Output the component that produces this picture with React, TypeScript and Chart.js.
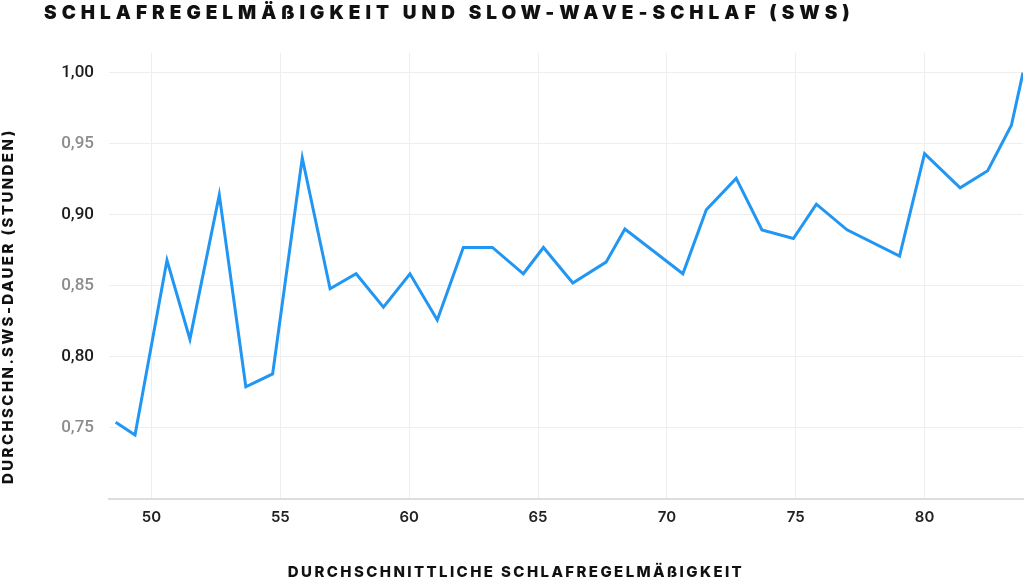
import { useEffect, useRef } from 'react';
import { Chart, registerables } from 'chart.js';

Chart.register(...registerables);

const titleText = 'SCHLAFREGELMÄßIGKEIT UND SLOW-WAVE-SCHLAF (SWS)';
const xAxisTitle = 'DURCHSCHNITTLICHE SCHLAFREGELMÄßIGKEIT';
const yAxisTitle = 'DURCHSCHN.SWS-DAUER (STUNDEN)';

const regularity = [
  48.61, 49.36, 50.6, 51.49, 52.63, 53.66, 54.7, 55.85, 56.93, 57.94, 59.0,
  60.03, 61.09, 62.1, 63.23, 64.43, 65.21, 66.35, 67.64, 68.37, 70.62, 71.53,
  72.69, 73.69, 74.91, 75.8, 76.99, 79.03, 80.0, 81.38, 82.45, 83.37, 83.82,
];
const swsHours = [
  0.754, 0.745, 0.868, 0.8125, 0.914, 0.779, 0.788, 0.94, 0.848, 0.8585, 0.835,
  0.8585, 0.826, 0.877, 0.877, 0.8585, 0.877, 0.852, 0.8667, 0.89, 0.8585,
  0.9035, 0.9256, 0.8894, 0.8833, 0.9075, 0.8894, 0.871, 0.943, 0.919, 0.931,
  0.963, 1.0,
];
const xTicks = [50, 55, 60, 65, 70, 75, 80];
const yTicks = [0.75, 0.8, 0.85, 0.9, 0.95, 1.0];

const TITLE_FONT = 'Inter';
const TITLE_SPACING = '5px';
const AXIS_TITLE_SPACING = '2.4px';

const spacingPlugin = {
  id: 'spacingPlugin',
  afterLayout(chart: any) {
    const tb = chart.titleBlock;
    if (tb && !tb.__wrapped) {
      const orig = tb.draw.bind(tb);
      tb.draw = (area: any) => {
        const ctx = chart.ctx;
        ctx.save();
        ctx.letterSpacing = TITLE_SPACING;
        ctx.translate(44, 0);
        orig(area);
        ctx.restore();
      };
      tb.__wrapped = true;
    }
    ['x', 'y'].forEach((id) => {
      const s = chart.scales[id];
      if (s && !s.__wrapped) {
        const o = s.drawTitle.bind(s);
        s.drawTitle = () => {
          const ctx = chart.ctx;
          ctx.save();
          ctx.letterSpacing = AXIS_TITLE_SPACING;
          if (id === 'x') ctx.translate(-50, 0);
          else ctx.translate(0, -15);
          o();
          ctx.restore();
        };
        s.__wrapped = true;
      }
    });
  },
};

export default function App() {
  const ref = useRef<HTMLCanvasElement | null>(null);

  useEffect(() => {
    if (!ref.current) return;
    const chart = new Chart(ref.current, {
      type: 'line',
      data: {
        datasets: [
          {
            data: regularity.map((x, i) => ({ x, y: swsHours[i] })),
            borderColor: '#2196F3',
            borderWidth: 3,
            pointRadius: 0,
            tension: 0,
            fill: false,
          },
        ],
      },
      options: {
        animation: false,
        responsive: false,
        layout: { padding: { left: 0, right: 1, top: 0, bottom: 0 } },
        plugins: {
          legend: { display: false },
          tooltip: { enabled: false },
          title: {
            display: true,
            text: titleText,
            align: 'start',
            color: '#111111',
            font: { family: TITLE_FONT, size: 19, weight: '900', lineHeight: 1.2 },
            padding: { top: 2, bottom: 28 },
          },
        },
        scales: {
          x: {
            type: 'linear',
            min: 48.35,
            max: 83.82,
            afterBuildTicks: (scale: any) => {
              scale.ticks = xTicks.map((v) => ({ value: v }));
            },
            afterFit: (scale: any) => {
              scale.height = 79;
            },
            grid: { color: '#eeeeee', lineWidth: 1, drawTicks: false },
            border: { display: true, color: '#dddddd', width: 2 },
            ticks: {
              padding: 9,
              color: '#222222',
              font: { family: 'Inter', size: 15, weight: '600' },
              callback: (v: any) => String(v),
            },
            title: {
              display: true,
              text: xAxisTitle,
              color: '#111111',
              font: { family: TITLE_FONT, size: 15, weight: '800', lineHeight: 0.75 },
              padding: { top: 0, bottom: 0 },
            },
          },
          y: {
            type: 'linear',
            min: 0.7,
            max: 1.014,
            afterBuildTicks: (scale: any) => {
              scale.ticks = yTicks.map((v) => ({ value: v }));
            },
            afterFit: (scale: any) => {
              scale.width = 109;
            },
            grid: { color: '#eeeeee', lineWidth: 1, drawTicks: false },
            border: { display: false },
            ticks: {
              padding: 15,
              color: (c: any) =>
                Math.round(c.tick.value * 100) % 10 === 0 ? '#1c1c1c' : '#8c8c8c',
              font: { family: 'Roboto', size: 17, weight: '500' },
              callback: (v: any) => Number(v).toFixed(2).replace('.', ','),
            },
            title: {
              display: true,
              text: yAxisTitle,
              align: 'start',
              color: '#111111',
              font: { family: TITLE_FONT, size: 15, weight: '800', lineHeight: 1.07 },
              padding: { top: 0, bottom: 0 },
            },
          },
        },
      },
      plugins: [spacingPlugin],
    } as any);
    return () => chart.destroy();
  }, []);

  return (
    <div style={{ position: 'fixed', left: 0, top: 0, width: 1024, height: 578, background: '#ffffff' }}>
      <canvas ref={ref} width={1024} height={578} style={{ display: 'block' }} />
    </div>
  );
}
